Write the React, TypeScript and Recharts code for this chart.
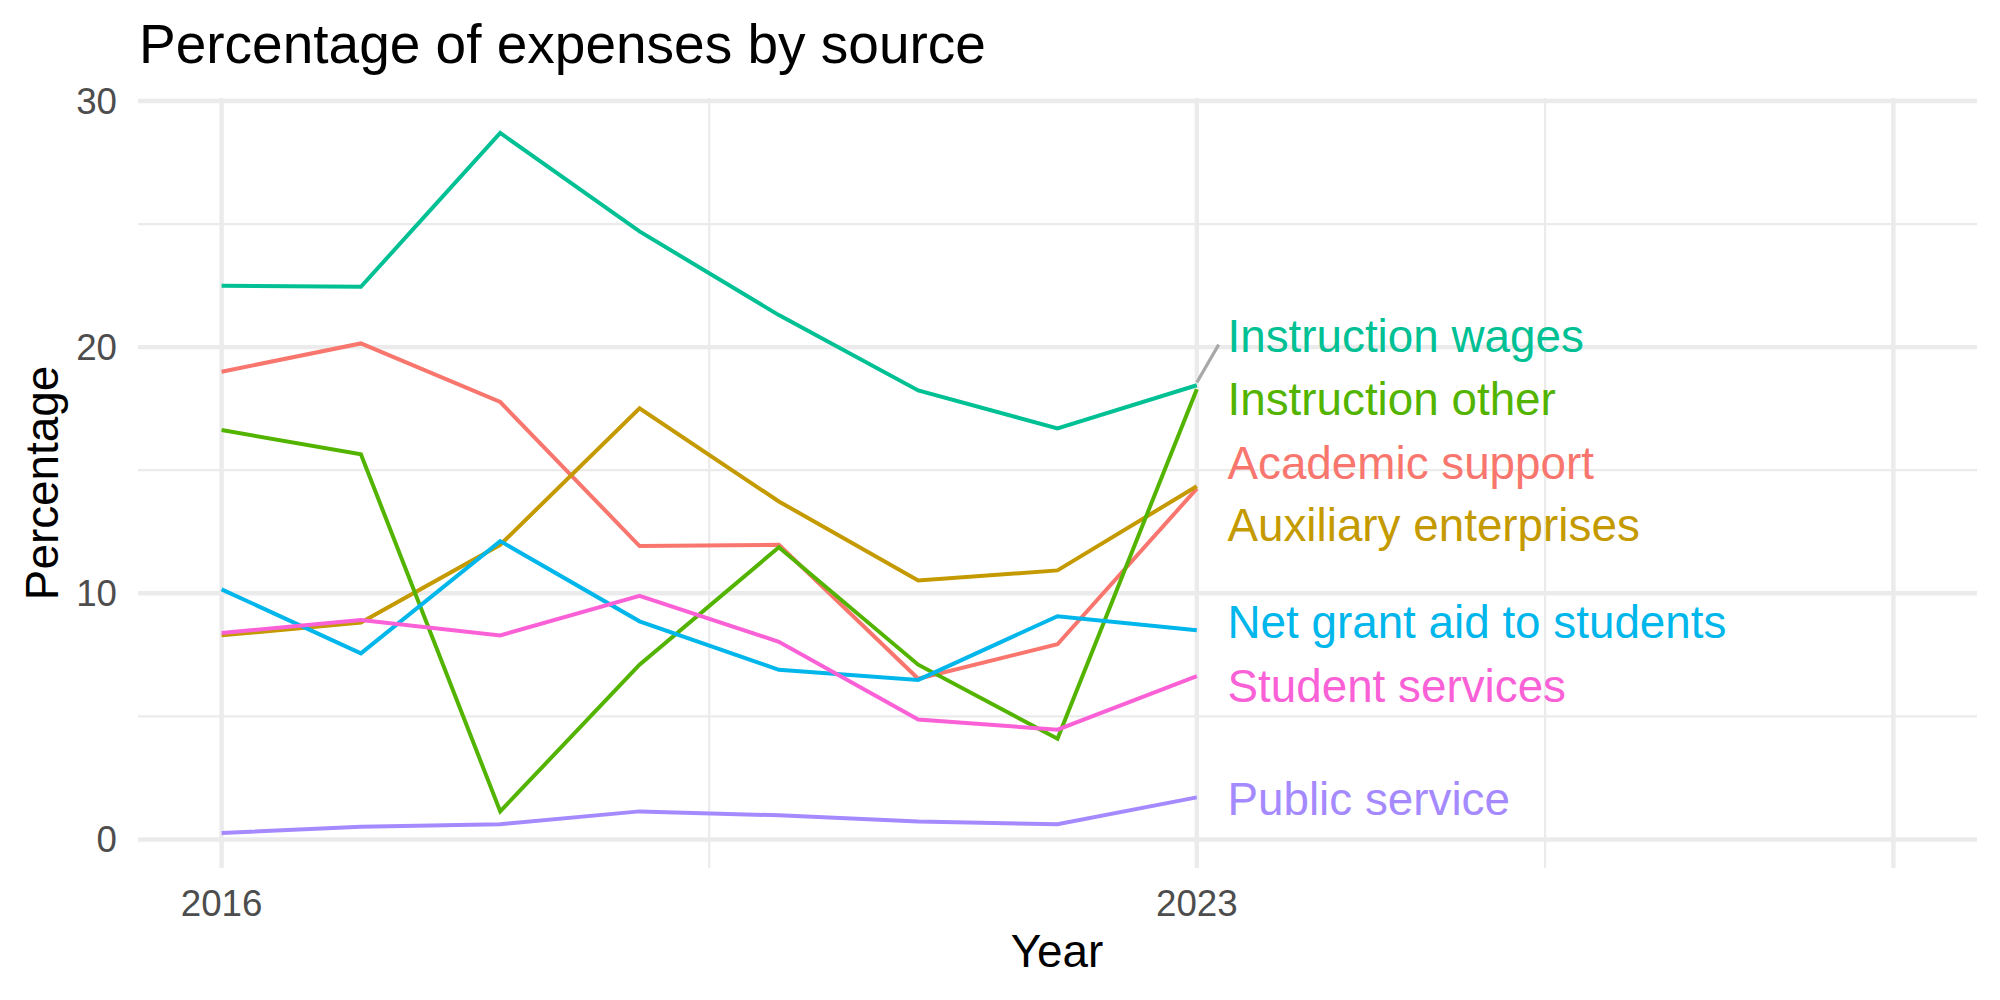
import React from 'react';
import { ComposedChart, Line, Scatter, XAxis, YAxis, ReferenceLine } from 'recharts';

const years = [2016, 2017, 2018, 2019, 2020, 2021, 2022, 2023];

const academicSupport = [19.0, 20.15, 17.77, 11.92, 11.97, 6.53, 7.93, 14.25];
const auxiliaryEnterprises = [8.29, 8.81, 11.97, 17.51, 13.73, 10.52, 10.93, 14.35];
const instructionOther = [16.63, 15.65, 1.14, 7.1, 11.87, 7.1, 4.09, 18.29];
const instructionWages = [22.49, 22.45, 28.7, 24.7, 21.3, 18.24, 16.7, 18.45];
const netGrantAid = [10.16, 7.56, 12.12, 8.86, 6.89, 6.48, 9.07, 8.5];
const publicService = [0.26, 0.52, 0.62, 1.14, 0.98, 0.73, 0.62, 1.71];
const studentServices = [8.39, 8.91, 8.29, 9.9, 8.03, 4.87, 4.46, 6.63];

const seriesNames = [
  'Academic support',
  'Auxiliary enterprises',
  'Instruction other',
  'Instruction wages',
  'Net grant aid to students',
  'Public service',
  'Student services',
];
const seriesValues = [
  academicSupport,
  auxiliaryEnterprises,
  instructionOther,
  instructionWages,
  netGrantAid,
  publicService,
  studentServices,
];
const colors = ['#F8766D', '#C49A00', '#53B400', '#00C094', '#00B6EB', '#A58AFF', '#FB61D7'];

// repelled label positions (same order as seriesNames)
const labelX = 2023.22;
const labelY = [15.31, 12.79, 17.91, 20.49, 8.85, 1.66, 6.25];

const xTicks = [2016, 2019.5, 2023, 2025.5, 2028];
const xMajor = [2016, 2023, 2028];
const xLabelled = [2016, 2023];
const yTicks = [0, 5, 10, 15, 20, 25, 30];
const yMajor = [0, 10, 20, 30];

const FONT = '"Liberation Sans", Arial, Helvetica, sans-serif';
const GRID = '#EBEBEB';

const table = years.map((year, i) => {
  const row: Record<string, number> = { year };
  seriesNames.forEach((name, s) => {
    row[name] = seriesValues[s][i];
  });
  return row;
});

const labelRows = seriesNames.map((name, s) => ({
  year: labelX,
  pos: labelY[s],
  name,
  color: colors[s],
}));

const LabelShape = (props: any) => {
  const { cx, cy, payload } = props;
  return (
    <text x={cx} y={cy + 16.5} fill={payload.color} fontSize={45.8} fontFamily={FONT}>
      {payload.name}
    </text>
  );
};

export default function App() {
  return (
    <div style={{ position: 'absolute', left: 0, top: 0, width: 2000, height: 1000, background: '#fff' }}>
      <ComposedChart
        width={2000}
        height={1000}
        data={table}
        margin={{ top: 98, right: 23, bottom: 72, left: 78 }}
        style={{ position: 'absolute', left: 0, top: 0 }}
      >
        {xTicks.map((t) => (
          <ReferenceLine
            key={'vx' + t}
            x={t}
            stroke={GRID}
            strokeWidth={xMajor.includes(t) ? 4.4 : 2.2}
          />
        ))}
        {yTicks.map((t) => (
          <ReferenceLine
            key={'hy' + t}
            y={t}
            stroke={GRID}
            strokeWidth={yMajor.includes(t) ? 4.4 : 2.2}
          />
        ))}
        <XAxis
          dataKey="year"
          type="number"
          domain={[2015.4, 2028.6]}
          allowDataOverflow
          ticks={xTicks}
          interval={0}
          tickFormatter={(v: number) => (xLabelled.includes(v) ? String(v) : '')}
          axisLine={false}
          tickLine={false}
          tickSize={0}
          tickMargin={22}
          height={60}
          tick={{ fill: '#4D4D4D', fontSize: 36.7, fontFamily: FONT }}
        />
        <YAxis
          type="number"
          domain={[-1.16, 30.12]}
          allowDataOverflow
          ticks={yTicks}
          interval={0}
          tickFormatter={(v: number) => (yMajor.includes(v) ? String(v) : '')}
          axisLine={false}
          tickLine={false}
          tickSize={0}
          tickMargin={21}
          width={60}
          tick={{ fill: '#4D4D4D', fontSize: 36.7, fontFamily: FONT }}
        />
        {seriesNames.map((name, s) => (
          <Line
            key={name}
            type="linear"
            dataKey={name}
            stroke={colors[s]}
            strokeWidth={4}
            dot={false}
            activeDot={false}
            isAnimationActive={false}
          />
        ))}
        <ReferenceLine
          segment={[
            { x: 2023, y: 18.56 },
            { x: 2023.157, y: 20.1 },
          ]}
          stroke="#A8A8A8"
          strokeWidth={3.2}
        />
        <Scatter data={labelRows} dataKey="pos" shape={LabelShape} isAnimationActive={false} />
      </ComposedChart>
      <svg
        width={2000}
        height={1000}
        style={{ position: 'absolute', left: 0, top: 0, pointerEvents: 'none' }}
      >
        <text x={139} y={63} fontSize={55} fontFamily={FONT} fill="#000">
          Percentage of expenses by source
        </text>
        <text x={1057} y={967} fontSize={45.8} fontFamily={FONT} fill="#000" textAnchor="middle">
          Year
        </text>
        <text
          x={58}
          y={483}
          fontSize={45.8}
          fontFamily={FONT}
          fill="#000"
          textAnchor="middle"
          transform="rotate(-90 58 483)"
        >
          Percentage
        </text>
      </svg>
    </div>
  );
}
